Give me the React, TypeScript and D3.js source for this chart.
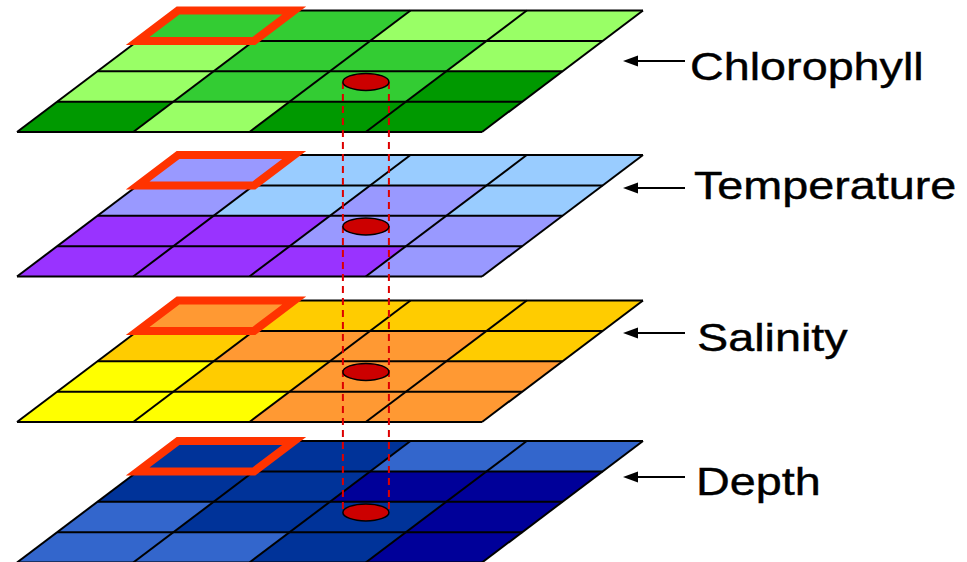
import React from "react";
import * as d3 from "d3";

// ---- data ----
const layerNames = ["Chlorophyll", "Temperature", "Salinity", "Depth"];
const chlorophyllLevels = [
  [1, 1, 0, 0],
  [0, 1, 1, 0],
  [0, 1, 1, 2],
  [2, 0, 2, 2],
];
const temperatureLevels = [
  [1, 0, 0, 0],
  [1, 0, 1, 0],
  [2, 2, 1, 1],
  [2, 2, 2, 1],
];
const salinityLevels = [
  [2, 1, 1, 1],
  [1, 2, 2, 1],
  [0, 1, 2, 2],
  [0, 0, 2, 2],
];
const depthLevels = [
  [1, 1, 0, 0],
  [1, 1, 2, 2],
  [0, 1, 1, 2],
  [0, 0, 1, 2],
];
const chlorophyllColors = ["#99ff66", "#33cc33", "#009900"];
const temperatureColors = ["#99ccff", "#9999ff", "#9933ff"];
const salinityColors = ["#ffff00", "#ffcc00", "#ff9933"];
const depthColors = ["#3366cc", "#003399", "#000099"];
const highlightCell = { row: 0, col: 0 };
const sampleCell = { row: 2.35, col: 2.43 };

const levelsList = [chlorophyllLevels, temperatureLevels, salinityLevels, depthLevels];
const colorsList = [chlorophyllColors, temperatureColors, salinityColors, depthColors];

// ---- layout ----
const W = 967;
const H = 562;
const layerTops = [10.5, 155, 300.5, 441];
const layerH = 121.5;
const baseLeft = 17;
const layerW = 465;
const skew = 161;
const labelArrowY = [61, 188, 333, 477];
const labelBaseY = [79.5, 198.5, 350.5, 494.5];
const labelX = [690, 694, 697, 696];

export default function App() {
  const rowY = d3.scaleLinear().domain([0, 4]).range([0, layerH]);
  const colX = d3.scaleLinear().domain([0, 4]).range([0, layerW]);
  const skewX = d3.scaleLinear().domain([0, 4]).range([skew, 0]);
  const pt = (top: number, r: number, c: number): [number, number] => [
    baseLeft + skewX(r) + colX(c),
    top + rowY(r),
  ];
  const poly = d3.line<[number, number]>().curve(d3.curveLinearClosed);
  const cellPath = (top: number, r: number, c: number, h = 1, w = 1) =>
    poly([pt(top, r, c), pt(top, r, c + w), pt(top, r + h, c + w), pt(top, r + h, c)]) || "";

  const ellipses = layerTops.map((t) => pt(t, sampleCell.row, sampleCell.col));
  const rx = 23;
  const ry = 8.5;

  return (
    <svg
      width={W}
      height={H}
      viewBox={`0 0 ${W} ${H}`}
      style={{ position: "absolute", left: 0, top: 0, background: "#fff" }}
    >
      {layerTops.map((top, li) => (
        <g key={li}>
          {levelsList[li].map((row, r) =>
            row.map((lv, c) => (
              <path key={`${r}-${c}`} d={cellPath(top, r, c)} fill={colorsList[li][lv]} stroke="none" />
            ))
          )}
          {d3.range(5).map((i) => (
            <line
              key={`h${i}`}
              x1={pt(top, i, 0)[0]}
              y1={pt(top, i, 0)[1]}
              x2={pt(top, i, 4)[0]}
              y2={pt(top, i, 4)[1]}
              stroke="#000"
              strokeWidth={2}
            />
          ))}
          {d3.range(5).map((i) => (
            <line
              key={`v${i}`}
              x1={pt(top, 0, i)[0]}
              y1={pt(top, 0, i)[1]}
              x2={pt(top, 4, i)[0]}
              y2={pt(top, 4, i)[1]}
              stroke="#000"
              strokeWidth={2}
            />
          ))}
          <path
            d={cellPath(top, highlightCell.row, highlightCell.col)}
            fill="none"
            stroke="#ff3300"
            strokeWidth={8}
            strokeLinejoin="miter"
          />
        </g>
      ))}
      {[-rx, rx].map((dx, i) => (
        <line
          key={`d${i}`}
          x1={ellipses[0][0] + dx}
          y1={ellipses[0][1]}
          x2={ellipses[3][0] + dx}
          y2={ellipses[3][1]}
          stroke="#dd0000"
          strokeWidth={2}
          strokeDasharray="7,5"
        />
      ))}
      {ellipses.map(([x, y], i) => (
        <ellipse key={`e${i}`} cx={x} cy={y} rx={rx} ry={ry} fill="#cc0000" stroke="#000" strokeWidth={1.5} />
      ))}
      {layerNames.map((name, i) => (
        <g key={name}>
          <line x1={636} y1={labelArrowY[i]} x2={685} y2={labelArrowY[i]} stroke="#000" strokeWidth={2} />
          <path
            d={poly([
              [623, labelArrowY[i]],
              [638, labelArrowY[i] - 5.5],
              [638, labelArrowY[i] + 5.5],
            ]) || ""}
            fill="#000"
          />
          <text
            transform={`translate(${labelX[i]},${labelBaseY[i]}) scale(1.23,1)`}
            fontFamily="'Liberation Sans', Arial, sans-serif"
            fontSize={38}
            fill="#000"
            stroke="#000"
            strokeWidth={0.4}
          >
            {name}
          </text>
        </g>
      ))}
    </svg>
  );
}
